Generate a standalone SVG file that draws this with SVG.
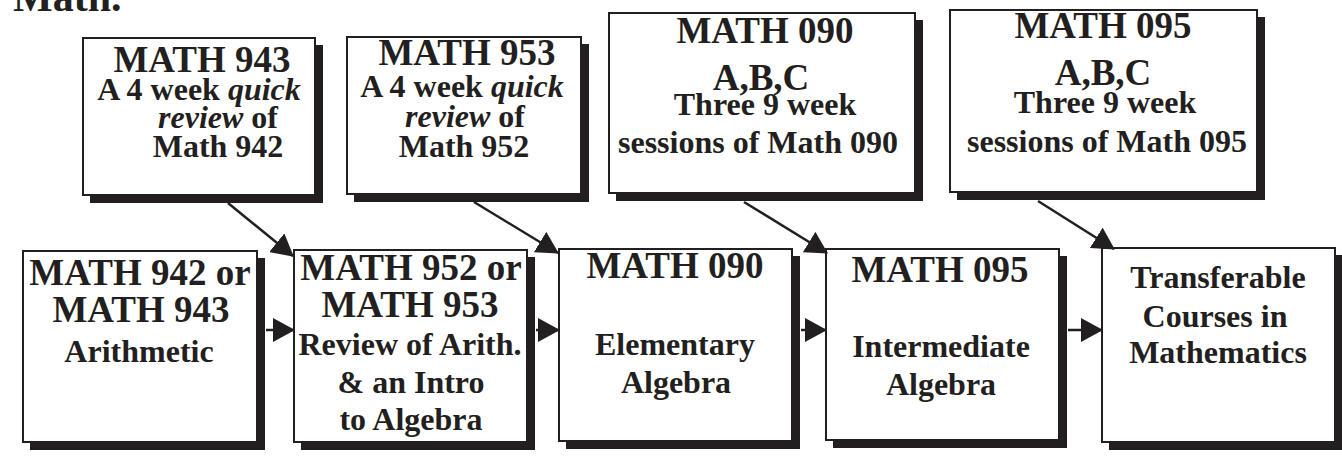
<svg xmlns="http://www.w3.org/2000/svg" width="1342" height="457" viewBox="0 0 1342 457">
<style>
text{font-family:"Liberation Serif","Times New Roman",serif;font-weight:bold;fill:#231f20;text-anchor:middle}
.big{font-size:37px}
.sm{font-size:32px}
.it{font-style:italic}
.sh{fill:#231f20}
.box{fill:#ffffff;stroke:#231f20;stroke-width:2}
</style>
<defs>
<marker id="ah" viewBox="0 0 22 24" refX="21" refY="12" markerWidth="22" markerHeight="24" markerUnits="userSpaceOnUse" orient="auto">
<path d="M0,0 L22,12 L0,24 Z" fill="#231f20"/>
</marker>
</defs>
<rect x="0" y="0" width="1342" height="457" fill="#ffffff"/>
<text x="13" y="11" style="font-size:42px;text-anchor:start">Math.</text>

<g id="n943">
<rect class="sh" x="90" y="45" width="233" height="158"/>
<rect class="box" x="83" y="38" width="232" height="157"/>
<text class="big" x="202" y="72">MATH 943</text>
<text class="sm" x="199" y="100">A 4 week <tspan class="it">quick</tspan></text>
<text class="sm" x="218" y="128"><tspan class="it">review</tspan> of</text>
<text class="sm" x="218" y="157">Math 942</text>
</g>
<g id="n953">
<rect class="sh" x="354" y="44" width="235" height="158"/>
<rect class="box" x="347" y="37" width="234" height="157"/>
<text class="big" x="467" y="65">MATH 953</text>
<text class="sm" x="462" y="97">A 4 week <tspan class="it">quick</tspan></text>
<text class="sm" x="465" y="127"><tspan class="it">review</tspan> of</text>
<text class="sm" x="464" y="157">Math 952</text>
</g>
<g id="n090abc">
<rect class="sh" x="616" y="20" width="307" height="181"/>
<rect class="box" x="609" y="13" width="306" height="180"/>
<text class="big" x="765" y="43">MATH 090</text>
<text class="big" x="761" y="90">A,B,C</text>
<text class="sm" x="765" y="115">Three 9 week</text>
<text class="sm" x="758" y="153">sessions of Math 090</text>
</g>
<g id="n095abc">
<rect class="sh" x="957" y="17" width="308" height="183"/>
<rect class="box" x="950" y="10" width="307" height="182"/>
<text class="big" x="1103" y="38">MATH 095</text>
<text class="big" x="1103" y="85">A,B,C</text>
<text class="sm" x="1105" y="113">Three 9 week</text>
<text class="sm" x="1107" y="152">sessions of Math 095</text>
</g>

<g id="n942">
<rect class="sh" x="30" y="258" width="235" height="192"/>
<rect class="box" x="23" y="251" width="234" height="191"/>
<text class="big" x="140" y="285">MATH 942 or</text>
<text class="big" x="141" y="322">MATH 943</text>
<text class="sm" x="139" y="362">Arithmetic</text>
</g>
<g id="n952">
<rect class="sh" x="301" y="257" width="234" height="193"/>
<rect class="box" x="294" y="250" width="233" height="192"/>
<text class="big" x="411" y="280">MATH 952 or</text>
<text class="big" x="410" y="317">MATH 953</text>
<text class="sm" x="410" y="355">Review of Arith.</text>
<text class="sm" x="411" y="393">&amp; an Intro</text>
<text class="sm" x="411" y="430">to Algebra</text>
</g>
<g id="n090">
<rect class="sh" x="566" y="256" width="234" height="193"/>
<rect class="box" x="559" y="249" width="233" height="192"/>
<text class="big" x="675" y="278">MATH 090</text>
<text class="sm" x="675" y="355">Elementary</text>
<text class="sm" x="676" y="393">Algebra</text>
</g>
<g id="n095">
<rect class="sh" x="833" y="256" width="234" height="192"/>
<rect class="box" x="826" y="249" width="233" height="191"/>
<text class="big" x="940" y="282">MATH 095</text>
<text class="sm" x="941" y="357">Intermediate</text>
<text class="sm" x="941" y="395">Algebra</text>
</g>
<g id="ntransfer">
<rect class="sh" x="1109" y="255" width="234" height="195"/>
<rect class="box" x="1102" y="248" width="233" height="194"/>
<text class="sm" x="1218" y="288">Transferable</text>
<text class="sm" x="1215" y="327">Courses in</text>
<text class="sm" x="1218" y="363">Mathematics</text>
</g>

<g id="connectors" stroke="#231f20" stroke-width="2.5" fill="none" marker-end="url(#ah)">
<line x1="266" y1="330" x2="294" y2="330"/>
<line x1="536" y1="330" x2="559" y2="330"/>
<line x1="801" y1="330" x2="826" y2="330"/>
<line x1="1068" y1="330" x2="1102" y2="330"/>
<line x1="228" y1="203" x2="293" y2="256"/>
<line x1="474" y1="202" x2="558" y2="253"/>
<line x1="744" y1="202" x2="827" y2="253"/>
<line x1="1038" y1="201" x2="1114" y2="249"/>
</g>
</svg>
